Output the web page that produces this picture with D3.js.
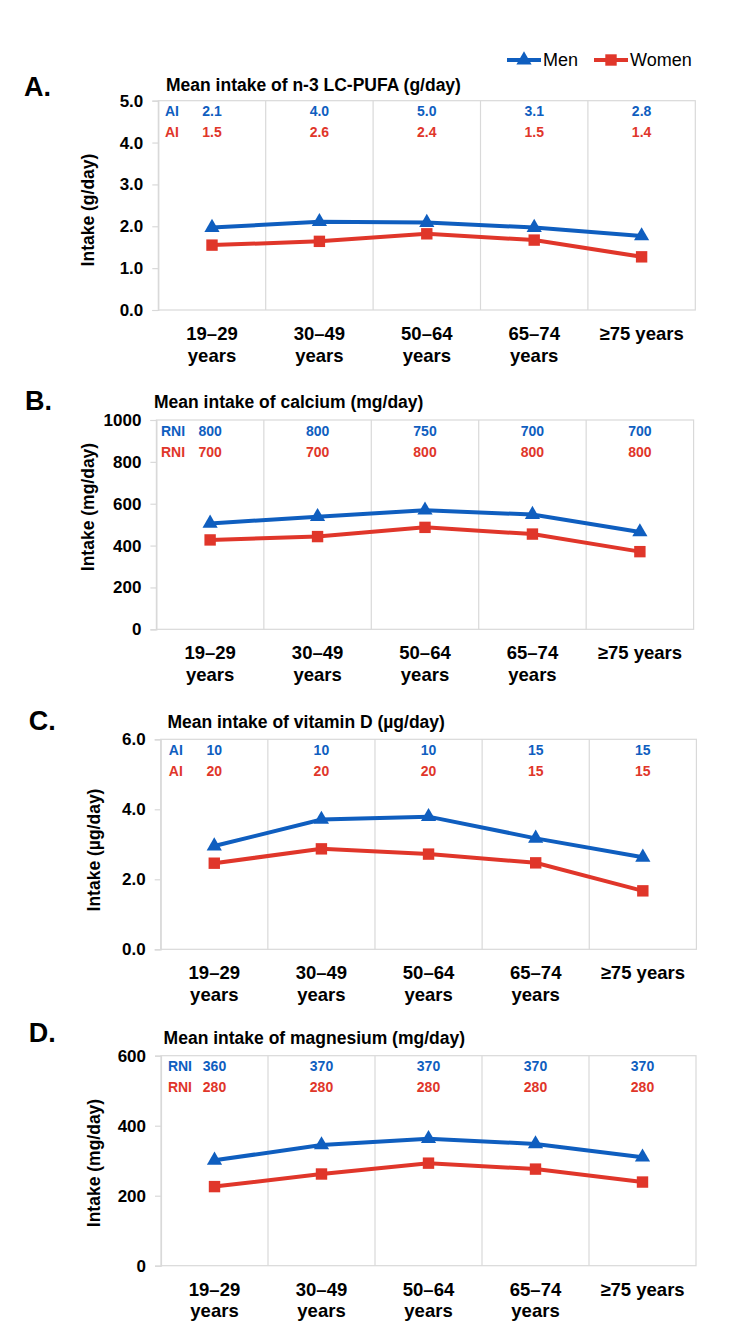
<!DOCTYPE html>
<html>
<head>
<meta charset="utf-8">
<script src="https://cdn.jsdelivr.net/npm/d3@7"></script>
<style>
  body { margin: 0; background: #fff; }
  svg { display: block; font-family: "Liberation Sans", Arial, sans-serif; }
</style>
</head>
<body>
<svg id="chart" width="750" height="1338"></svg>
<script>
// age groups, each one split into the lines shown under the axis
var ageGroups = ["19–29", "30–49", "50–64", "65–74", "≥75"];
var ageTickLines = [["19–29", "years"], ["30–49", "years"], ["50–64", "years"], ["65–74", "years"], ["≥75 years"]];

// A. n-3 LC-PUFA (g/day)
var pufaMen = [1.97, 2.11, 2.09, 1.97, 1.77];
var pufaWomen = [1.55, 1.64, 1.82, 1.67, 1.27];
var pufaRefMen = ["2.1", "4.0", "5.0", "3.1", "2.8"];
var pufaRefWomen = ["1.5", "2.6", "2.4", "1.5", "1.4"];
var pufaTicks = [0, 1, 2, 3, 4, 5];

// B. calcium (mg/day)
var calciumMen = [506, 538, 569, 548, 465];
var calciumWomen = [427, 443, 487, 455, 371];
var calciumRefMen = ["800", "800", "750", "700", "700"];
var calciumRefWomen = ["700", "700", "800", "800", "800"];
var calciumTicks = [0, 200, 400, 600, 800, 1000];

// C. vitamin D (µg/day)
var vitDMen = [2.95, 3.71, 3.79, 3.17, 2.63];
var vitDWomen = [2.46, 2.87, 2.72, 2.47, 1.67];
var vitDRefMen = ["10", "10", "10", "15", "15"];
var vitDRefWomen = ["20", "20", "20", "15", "15"];
var vitDTicks = [0, 2, 4, 6];

// D. magnesium (mg/day)
var magMen = [301, 345, 363, 348, 310];
var magWomen = [226, 262, 293, 276, 239];
var magRefMen = ["360", "370", "370", "370", "370"];
var magRefWomen = ["280", "280", "280", "280", "280"];
var magTicks = [0, 200, 400, 600];

var BLUE = "#0f5ebf", RED = "#e0362a", GRID = "#d9d9d9";

// layout of the four panels (pixel boxes only)
var panels = [
  { letter: "A.", title: "Mean intake of n-3 LC-PUFA (g/day)", ylabel: "Intake (g/day)", refLabel: "AI",
    men: pufaMen, women: pufaWomen, refMen: pufaRefMen, refWomen: pufaRefWomen, ticks: pufaTicks, fmt: ".1f",
    left: 158.3, right: 695.3, top: 100.7, bottom: 310,
    letterX: 24, letterY: 96, titleX: 166, titleY: 91, ylabX: 87.5, ylabY: 210, refX: 165 },
  { letter: "B.", title: "Mean intake of calcium (mg/day)", ylabel: "Intake (mg/day)", refLabel: "RNI",
    men: calciumMen, women: calciumWomen, refMen: calciumRefMen, refWomen: calciumRefWomen, ticks: calciumTicks, fmt: "d",
    left: 156.4, right: 693.6, top: 420, bottom: 629.3,
    letterX: 25, letterY: 410, titleX: 154, titleY: 408, ylabX: 87.5, ylabY: 507, refX: 161 },
  { letter: "C.", title: "Mean intake of vitamin D (µg/day)", ylabel: "Intake (µg/day)", refLabel: "AI",
    men: vitDMen, women: vitDWomen, refMen: vitDRefMen, refWomen: vitDRefWomen, ticks: vitDTicks, fmt: ".1f",
    left: 160.7, right: 696.4, top: 739.3, bottom: 949.3,
    letterX: 28.7, letterY: 730, titleX: 167.4, titleY: 728, ylabX: 94.2, ylabY: 850, refX: 168.8 },
  { letter: "D.", title: "Mean intake of magnesium (mg/day)", ylabel: "Intake (mg/day)", refLabel: "RNI",
    men: magMen, women: magWomen, refMen: magRefMen, refWomen: magRefWomen, ticks: magTicks, fmt: "d",
    left: 161, right: 696, top: 1055.7, bottom: 1265.7,
    letterX: 28.7, letterY: 1041.5, titleX: 163.6, titleY: 1044, ylabX: 94.2, ylabY: 1163, refX: 167.9 }
];

var svg = d3.select("#chart");
var triangle = d3.symbol().type(d3.symbolTriangle).size(100);
var square = d3.symbol().type(d3.symbolSquare).size(130);

panels.forEach(function(p) {
  var g = svg.append("g");
  var x = d3.scaleBand().domain(ageGroups).range([p.left, p.right]);
  var y = d3.scaleLinear().domain([0, d3.max(p.ticks)]).range([p.bottom, p.top]);

  // panel letter and title
  g.append("text").attr("x", p.letterX).attr("y", p.letterY)
    .attr("font-size", 27).attr("font-weight", "bold").text(p.letter);
  g.append("text").attr("x", p.titleX).attr("y", p.titleY)
    .attr("font-size", 17.5).attr("font-weight", "bold").text(p.title);

  // plot frame: top/bottom/right lines and category separators
  g.append("rect").attr("x", p.left).attr("y", p.top)
    .attr("width", p.right - p.left).attr("height", p.bottom - p.top)
    .attr("fill", "none").attr("stroke", GRID).attr("stroke-width", 1.2);
  g.selectAll(".sep").data(ageGroups.slice(1)).enter().append("line")
    .attr("x1", function(d) { return x(d); }).attr("x2", function(d) { return x(d); })
    .attr("y1", p.top).attr("y2", p.bottom)
    .attr("stroke", GRID).attr("stroke-width", 1.2);

  // y axis
  var yAxis = g.append("g").attr("transform", "translate(" + p.left + ",0)")
    .call(d3.axisLeft(y).tickValues(p.ticks).tickFormat(d3.format(p.fmt)).tickSize(6).tickPadding(9));
  yAxis.select(".domain").attr("stroke", GRID).attr("stroke-width", 1.2);
  yAxis.selectAll(".tick line").attr("stroke", GRID).attr("stroke-width", 1.2);
  yAxis.selectAll(".tick text").attr("font-size", 17).attr("font-weight", "bold")
    .attr("fill", "#000").attr("font-family", null);

  g.append("text")
    .attr("transform", "translate(" + p.ylabX + "," + p.ylabY + ") rotate(-90)")
    .attr("text-anchor", "middle").attr("dominant-baseline", "central")
    .attr("font-size", 17.5).attr("font-weight", "bold").text(p.ylabel);

  // x axis labels (multi-line)
  var xAxis = g.append("g").attr("transform", "translate(0," + p.bottom + ")")
    .call(d3.axisBottom(x).tickSize(0).tickFormat(""));
  xAxis.select(".domain").remove();
  xAxis.selectAll(".tick").each(function(d, i) {
    var t = d3.select(this).append("text").attr("fill", "#000")
      .attr("text-anchor", "middle").attr("font-size", 18.5).attr("font-weight", "bold");
    ageTickLines[i].forEach(function(line, j) {
      t.append("tspan").attr("x", 0).attr("y", 30 + j * 21.5).text(line);
    });
  });

  // reference intake rows
  [[p.refMen, BLUE, 15.5], [p.refWomen, RED, 36.5]].forEach(function(row) {
    g.append("text").attr("x", p.refX).attr("y", p.top + row[2])
      .attr("font-size", 14).attr("font-weight", "bold").attr("fill", row[1]).text(p.refLabel);
    g.selectAll(null).data(row[0]).enter().append("text")
      .attr("x", function(d, i) { return x(ageGroups[i]) + x.bandwidth() / 2; })
      .attr("y", p.top + row[2])
      .attr("text-anchor", "middle").attr("font-size", 14).attr("font-weight", "bold")
      .attr("fill", row[1]).text(function(d) { return d; });
  });

  // series lines and markers
  var line = d3.line()
    .x(function(d, i) { return x(ageGroups[i]) + x.bandwidth() / 2; })
    .y(function(d) { return y(d); });
  [[p.women, RED, square], [p.men, BLUE, triangle]].forEach(function(s) {
    g.append("path").datum(s[0]).attr("d", line)
      .attr("fill", "none").attr("stroke", s[1]).attr("stroke-width", 4);
    g.selectAll(null).data(s[0]).enter().append("path")
      .attr("transform", function(d, i) {
        return "translate(" + (x(ageGroups[i]) + x.bandwidth() / 2) + "," + y(d) + ")";
      })
      .attr("d", s[2]).attr("fill", s[1]);
  });
});

// legend
var legend = svg.append("g");
[["Men", BLUE, triangle, 507], ["Women", RED, square, 594]].forEach(function(item) {
  var lg = legend.append("g").attr("transform", "translate(" + item[3] + ",60)");
  lg.append("line").attr("x1", 0).attr("x2", 34).attr("y1", 0).attr("y2", 0)
    .attr("stroke", item[1]).attr("stroke-width", 4);
  lg.append("path").attr("transform", "translate(17,0)").attr("d", item[2]).attr("fill", item[1]);
  lg.append("text").attr("x", 36).attr("y", 0).attr("dominant-baseline", "central")
    .attr("font-size", 18).text(item[0]);
});
</script>
</body>
</html>
